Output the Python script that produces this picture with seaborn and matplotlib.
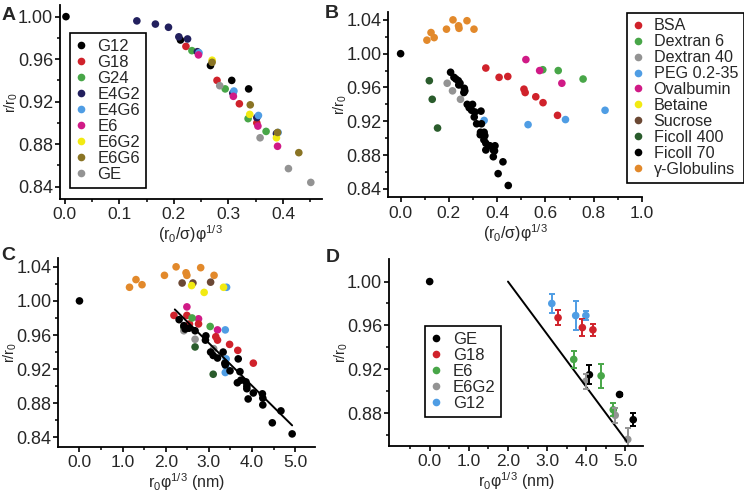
import matplotlib
matplotlib.use("Agg")
import pandas as pd
import seaborn as sns
import matplotlib.pyplot as plt
from matplotlib.ticker import FixedLocator, FormatStrFormatter
from matplotlib.lines import Line2D

# ---- panel A: r/r0 vs (r0/sigma) phi^1/3, per crowder ----
A_G12 = ([0.002, 0.212, 0.267, 0.306, 0.337], [1.000, 0.978, 0.954, 0.940, 0.932])
A_G18 = ([0.222, 0.279, 0.320, 0.352], [0.972, 0.940, 0.918, 0.900])
A_G24 = ([0.233, 0.294, 0.336, 0.369], [0.968, 0.932, 0.904, 0.892])
A_E4G2 = ([0.132, 0.166, 0.190, 0.209, 0.225, 0.243, 0.308, 0.352, 0.388],
          [0.996, 0.993, 0.990, 0.981, 0.979, 0.967, 0.928, 0.905, 0.890])
A_E4G6 = ([0.246, 0.310, 0.355, 0.391], [0.966, 0.930, 0.907, 0.891])
A_E6 = ([0.245, 0.309, 0.354, 0.390], [0.964, 0.925, 0.897, 0.878])
A_E6G2 = ([0.270, 0.339, 0.388], [0.959, 0.908, 0.886])
A_E6G6 = ([0.270, 0.340, 0.390, 0.429], [0.957, 0.917, 0.891, 0.872])
A_GE = ([0.284, 0.358, 0.410, 0.451], [0.935, 0.886, 0.857, 0.844])

# ---- panel B: same axis, other crowders ----
B_BSA = ([0.353, 0.408, 0.444, 0.511, 0.516, 0.560, 0.590, 0.650],
         [0.983, 0.972, 0.973, 0.958, 0.954, 0.949, 0.942, 0.927])
B_DEX6 = ([0.589, 0.653, 0.756], [0.981, 0.980, 0.970])
B_DEX40 = ([0.193, 0.215, 0.248], [0.965, 0.956, 0.946])
B_PEG = ([0.346, 0.528, 0.683, 0.847], [0.921, 0.916, 0.922, 0.933])
B_OVA = ([0.519, 0.576, 0.668], [0.993, 0.980, 0.965])
B_BET = ([], [])
B_SUC = ([], [])
B_FIC400 = ([0.119, 0.131, 0.153], [0.968, 0.946, 0.912])
B_FIC70 = ([0.0, 0.207, 0.221, 0.229, 0.239, 0.246, 0.241, 0.264, 0.266, 0.262, 0.276,
            0.284, 0.298, 0.294, 0.308, 0.305, 0.315, 0.333, 0.335, 0.331, 0.330, 0.346,
            0.349, 0.345, 0.353, 0.370, 0.391, 0.384, 0.353, 0.389, 0.384, 0.424, 0.404, 0.446],
           [1.000, 0.978, 0.972, 0.970, 0.968, 0.965, 0.963, 0.959, 0.956, 0.954, 0.940,
            0.936, 0.940, 0.933, 0.931, 0.925, 0.917, 0.932, 0.917, 0.907, 0.904, 0.907,
            0.903, 0.898, 0.894, 0.891, 0.891, 0.886, 0.886, 0.885, 0.878, 0.872, 0.858, 0.844])
B_GLOB = ([0.109, 0.126, 0.139, 0.190, 0.217, 0.240, 0.242, 0.275, 0.304],
          [1.016, 1.025, 1.019, 1.029, 1.040, 1.033, 1.030, 1.039, 1.029])

# ---- panel C: r/r0 vs r0 phi^1/3 (nm) ----
C_GLOB = ([1.16, 1.31, 1.45, 1.97, 2.24, 2.47, 2.49, 2.81, 3.12],
          [1.016, 1.025, 1.019, 1.030, 1.040, 1.033, 1.030, 1.039, 1.030])
C_SUC = ([2.38, 2.63, 3.04], [1.021, 1.021, 1.022])
C_PEG = ([3.41, 3.38, 3.40, 3.39, 3.38], [1.016, 0.966, 0.932, 0.924, 0.916])
C_BET = ([2.60, 2.89, 3.34], [1.018, 1.010, 1.016])
C_OVA = ([2.49, 2.76, 3.20], [0.993, 0.979, 0.966])
C_BSA = ([2.19, 2.49, 2.55, 2.76, 3.16, 3.20, 3.48, 3.67, 4.03],
         [0.983, 0.983, 0.973, 0.973, 0.958, 0.954, 0.949, 0.942, 0.927])
C_DEX6 = ([2.61, 3.03], [0.980, 0.970])
C_FIC400 = ([2.42, 2.68, 3.10], [0.969, 0.946, 0.914])
C_DEX40 = ([2.42, 2.68, 3.11], [0.965, 0.955, 0.944])
C_FIC70 = ([0.0, 2.31, 2.42, 2.45, 2.54, 2.68, 2.93, 2.92, 3.04, 3.10, 3.20, 3.33, 3.37,
            3.38, 3.49, 3.68, 3.72, 3.66, 3.74, 3.86, 3.88, 3.88, 3.91, 4.03, 4.24, 4.25,
            4.25, 4.67, 4.47, 4.93],
           [1.000, 0.978, 0.971, 0.967, 0.968, 0.965, 0.959, 0.954, 0.940, 0.936, 0.933,
            0.940, 0.927, 0.925, 0.918, 0.932, 0.917, 0.904, 0.907, 0.905, 0.900, 0.897,
            0.885, 0.892, 0.891, 0.886, 0.878, 0.871, 0.857, 0.844])
C_FIT = ([2.21, 4.93], [0.990, 0.854])

# ---- panel D: means with error bars ----
D_GE = ([0.0, 4.08, 4.85, 5.20], [1.000, 0.915, 0.897, 0.874], [0.0, 0.0086, 0.001, 0.006])
D_G18 = ([3.28, 3.90, 4.17], [0.967, 0.958, 0.956], [0.007, 0.008, 0.0056])
D_E6 = ([3.68, 4.38, 4.69], [0.929, 0.914, 0.883], [0.0076, 0.011, 0.006])
D_E6G2 = ([3.99, 4.74, 5.06], [0.909, 0.878, 0.856], [0.007, 0.007, 0.010])
D_G12 = ([3.12, 3.73, 3.99], [0.980, 0.969, 0.969], [0.0085, 0.013, 0.004])
D_FIT = ([2.0, 5.06], [1.000, 0.853])

BLACK = "#000000"
RED = "#d0222b"
GREEN = "#48a648"
NAVY = "#22205e"
BLUE = "#4f9de4"
MAGENTA = "#d01a86"
YELLOW = "#f2ea12"
OLIVE = "#8a7424"
GRAY = "#939393"
DKGREEN = "#2a5c2c"
BROWN = "#6b4834"
ORANGE = "#e2892b"

sns.set_style("ticks")
plt.rcParams["font.family"] = ["Liberation Sans", "DejaVu Sans"]
plt.rcParams["mathtext.fontset"] = "custom"
plt.rcParams["mathtext.rm"] = "Liberation Sans"
plt.rcParams["mathtext.it"] = "Liberation Sans:italic"
plt.rcParams["mathtext.default"] = "rm"
plt.rcParams["axes.linewidth"] = 1.3


def scatter_groups(ax, groups):
    rows = []
    for name, (xs, ys), color in groups:
        for x, y in zip(xs, ys):
            rows.append({"x": x, "y": y, "series": name})
    df = pd.DataFrame(rows)
    order = [g[0] for g in groups]
    palette = {g[0]: g[2] for g in groups}
    sns.scatterplot(data=df, x="x", y="y", hue="series", hue_order=order, palette=palette,
                    s=30, linewidth=0, legend=False, ax=ax)


def make_legend(ax, groups, fontsize=12, **kw):
    handles = [Line2D([], [], marker="o", linestyle="", markersize=5.5, color=c, markeredgewidth=0)
               for _, _, c in groups]
    labels = [g[0] for g in groups]
    leg = ax.legend(handles, labels, fontsize=fontsize, frameon=True, fancybox=False,
                    edgecolor="black", framealpha=1, handlelength=0.6, handletextpad=0.7,
                    labelspacing=0.06, borderpad=0.35, borderaxespad=0, **kw)
    leg.get_frame().set_linewidth(1.2)
    return leg


def style(ax, xlim, ylim, xmajor, xminor, ymajor, yminor, xfmt, xlabel):
    ax.set_xlim(*xlim)
    ax.set_ylim(*ylim)
    ax.xaxis.set_major_locator(FixedLocator(xmajor))
    ax.xaxis.set_minor_locator(FixedLocator(xminor))
    ax.yaxis.set_major_locator(FixedLocator(ymajor))
    ax.yaxis.set_minor_locator(FixedLocator(yminor))
    ax.xaxis.set_major_formatter(FormatStrFormatter(xfmt))
    ax.yaxis.set_major_formatter(FormatStrFormatter("%.2f"))
    ax.tick_params(axis="both", which="major", direction="out", length=3.5, width=1.2,
                   color="black", pad=1.5)
    ax.tick_params(axis="both", which="minor", direction="out", length=2.5, width=1.1, color="black")
    ax.tick_params(axis="x", labelsize=12.5, pad=2.5)
    ax.tick_params(axis="y", labelsize=13)
    sns.despine(ax=ax)
    for sp in ax.spines.values():
        sp.set_color("black")
    ax.set_xlabel(xlabel, fontsize=11.5, labelpad=1)
    ax.set_ylabel("r/r$_0$", fontsize=10.5)
    ax.yaxis.set_label_coords(-0.153, 0.5)


fig = plt.figure(figsize=(7.44, 4.95), dpi=100)

# panel A
axA = fig.add_axes([0.0806, 0.598, 0.3518, 0.392])
groups_A = [("G12", A_G12, BLACK), ("G18", A_G18, RED), ("G24", A_G24, GREEN),
            ("E4G2", A_E4G2, NAVY), ("E4G6", A_E4G6, BLUE), ("E6", A_E6, MAGENTA),
            ("E6G2", A_E6G2, YELLOW), ("E6G6", A_E6G6, OLIVE), ("GE", A_GE, GRAY)]
scatter_groups(axA, groups_A)
style(axA, (-0.009, 0.471), (0.8284, 1.011), [0.0, 0.1, 0.2, 0.3, 0.4],
      [0.05, 0.15, 0.25, 0.35, 0.45], [0.84, 0.88, 0.92, 0.96, 1.00],
      [0.86, 0.90, 0.94, 0.98], "%.1f", "(r$_0$/σ)φ$^{1/3}$")
make_legend(axA, groups_A, loc="lower left", bbox_to_anchor=(0.038, 0.058))

# panel B
axB = fig.add_axes([0.5219, 0.6014, 0.341, 0.375])
groups_B = [("BSA", B_BSA, RED), ("Dextran 6", B_DEX6, GREEN), ("Dextran 40", B_DEX40, GRAY),
            ("PEG 0.2-35", B_PEG, BLUE), ("Ovalbumin", B_OVA, MAGENTA), ("Betaine", B_BET, YELLOW),
            ("Sucrose", B_SUC, BROWN), ("Ficoll 400", B_FIC400, DKGREEN),
            ("Ficoll 70", B_FIC70, BLACK), ("γ-Globulins", B_GLOB, ORANGE)]
scatter_groups(axB, [g for g in groups_B if len(g[1][0]) > 0])
style(axB, (-0.051, 1.0), (0.830, 1.0497), [0.0, 0.2, 0.4, 0.6, 0.8, 1.0],
      [0.1, 0.3, 0.5, 0.7, 0.9], [0.84, 0.88, 0.92, 0.96, 1.00, 1.04],
      [0.86, 0.90, 0.94, 0.98, 1.02], "%.1f", "(r$_0$/σ)φ$^{1/3}$")
make_legend(axB, groups_B, fontsize=11.6, loc="upper left", bbox_to_anchor=(0.941, 0.995))

# panel C
axC = fig.add_axes([0.0784, 0.0976, 0.345, 0.3806])
groups_C = [("γ-Globulins", C_GLOB, ORANGE), ("Sucrose", C_SUC, BROWN), ("PEG 0.2-35", C_PEG, BLUE),
            ("Betaine", C_BET, YELLOW), ("Ovalbumin", C_OVA, MAGENTA), ("BSA", C_BSA, RED),
            ("Dextran 6", C_DEX6, GREEN), ("Ficoll 400", C_FIC400, DKGREEN),
            ("Dextran 40", C_DEX40, GRAY), ("Ficoll 70", C_FIC70, BLACK)]
scatter_groups(axC, groups_C)
sns.lineplot(x=C_FIT[0], y=C_FIT[1], color="black", linewidth=1.4, ax=axC)
style(axC, (-0.49, 5.46), (0.829, 1.050), [0, 1, 2, 3, 4, 5],
      [0.5, 1.5, 2.5, 3.5, 4.5], [0.84, 0.88, 0.92, 0.96, 1.00, 1.04],
      [0.86, 0.90, 0.94, 0.98, 1.02], "%.1f", "r$_0$φ$^{1/3}$ (nm)")

# panel D
axD = fig.add_axes([0.5228, 0.099, 0.342, 0.3778])
groups_D = [("GE", D_GE, BLACK), ("G18", D_G18, RED), ("E6", D_E6, GREEN),
            ("E6G2", D_E6G2, GRAY), ("G12", D_G12, BLUE)]
sns.lineplot(x=D_FIT[0], y=D_FIT[1], color="black", linewidth=1.4, ax=axD)
for name, (xs, ys, es), color in groups_D:
    axD.errorbar(xs, ys, yerr=es, fmt="none", ecolor=color, elinewidth=1.4,
                 capsize=2.3, capthick=1.4)
scatter_groups(axD, [(n, (v[0], v[1]), c) for n, v, c in groups_D])
style(axD, (-1.04, 5.46), (0.85, 1.0206), [0, 1, 2, 3, 4, 5],
      [-0.5, 0.5, 1.5, 2.5, 3.5, 4.5], [0.88, 0.92, 0.96, 1.00],
      [0.86, 0.90, 0.94, 0.98], "%.1f", "r$_0$φ$^{1/3}$ (nm)")
make_legend(axD, groups_D, loc="lower left", bbox_to_anchor=(0.143, 0.157))

for lab, x, y in [("A", 0.002, 0.986), ("B", 0.437, 0.99), ("C", 0.002, 0.5), ("D", 0.438, 0.496)]:
    fig.text(x, y, lab, fontsize=14, fontweight="bold", va="top", ha="left")

fig.savefig("out.png", dpi=100)
